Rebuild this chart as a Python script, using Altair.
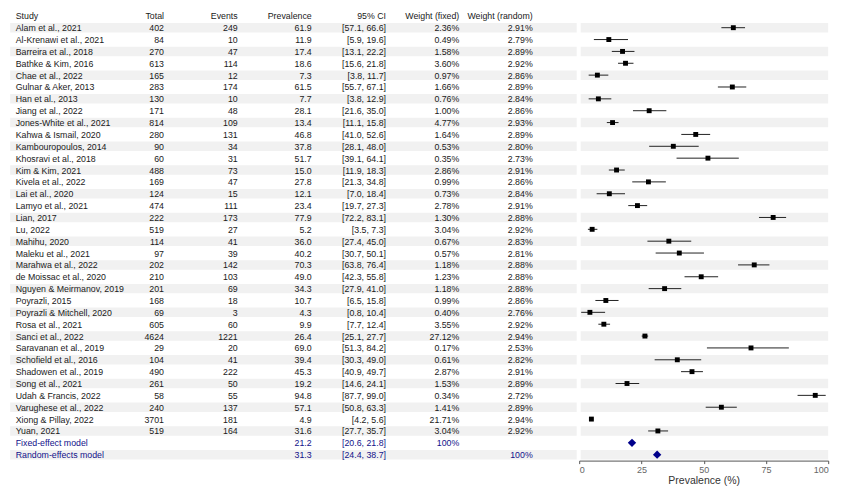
import altair as alt
import pandas as pd

studies = ["Alam et al., 2021", "Al-Krenawi et al., 2021", "Barreira et al., 2018", "Bathke & Kim, 2016",
           "Chae et al., 2022", "Gulnar & Aker, 2013", "Han et al., 2013", "Jiang et al., 2022",
           "Jones-White et al., 2021", "Kahwa & Ismail, 2020", "Kambouropoulos, 2014", "Khosravi et al., 2018",
           "Kim & Kim, 2021", "Kivela et al., 2022", "Lai et al., 2020", "Lamyo et al., 2021", "Lian, 2017",
           "Lu, 2022", "Mahihu, 2020", "Maleku et al., 2021", "Marahwa et al., 2022", "de Moissac et al., 2020",
           "Nguyen & Meirmanov, 2019", "Poyrazli, 2015", "Poyrazli & Mitchell, 2020", "Rosa et al., 2021",
           "Sanci et al., 2022", "Saravanan et al., 2019", "Schofield et al., 2016", "Shadowen et al., 2019",
           "Song et al., 2021", "Udah & Francis, 2022", "Varughese et al., 2022", "Xiong & Pillay, 2022",
           "Yuan, 2021"]
totals = [402, 84, 270, 613, 165, 283, 130, 171, 814, 280, 90, 60, 488, 169, 124, 474, 222, 519, 114, 97,
          202, 210, 201, 168, 69, 605, 4624, 29, 104, 490, 261, 58, 240, 3701, 519]
events = [249, 10, 47, 114, 12, 174, 10, 48, 109, 131, 34, 31, 73, 47, 15, 111, 173, 27, 41, 39,
          142, 103, 69, 18, 3, 60, 1221, 20, 41, 222, 50, 55, 137, 181, 164]
prevalence = [61.9, 11.9, 17.4, 18.6, 7.3, 61.5, 7.7, 28.1, 13.4, 46.8, 37.8, 51.7, 15.0, 27.8, 12.1, 23.4,
              77.9, 5.2, 36.0, 40.2, 70.3, 49.0, 34.3, 10.7, 4.3, 9.9, 26.4, 69.0, 39.4, 45.3, 19.2, 94.8,
              57.1, 4.9, 31.6]
ci_low = [57.1, 5.9, 13.1, 15.6, 3.8, 55.7, 3.8, 21.6, 11.1, 41.0, 28.1, 39.1, 11.9, 21.3, 7.0, 19.7,
          72.2, 3.5, 27.4, 30.7, 63.8, 42.3, 27.9, 6.5, 0.8, 7.7, 25.1, 51.3, 30.3, 40.9, 14.6, 87.7,
          50.8, 4.2, 27.7]
ci_high = [66.6, 19.6, 22.2, 21.8, 11.7, 67.1, 12.9, 35.0, 15.8, 52.6, 48.0, 64.1, 18.3, 34.8, 18.4, 27.3,
           83.1, 7.3, 45.0, 50.1, 76.4, 55.8, 41.0, 15.8, 10.4, 12.4, 27.7, 84.2, 49.0, 49.7, 24.1, 99.0,
           63.3, 5.6, 35.7]
w_fixed = [2.36, 0.49, 1.58, 3.60, 0.97, 1.66, 0.76, 1.00, 4.77, 1.64, 0.53, 0.35, 2.86, 0.99, 0.73, 2.78,
           1.30, 3.04, 0.67, 0.57, 1.18, 1.23, 1.18, 0.99, 0.40, 3.55, 27.12, 0.17, 0.61, 2.87, 1.53, 0.34,
           1.41, 21.71, 3.04]
w_random = [2.91, 2.79, 2.89, 2.92, 2.86, 2.89, 2.84, 2.86, 2.93, 2.89, 2.80, 2.73, 2.91, 2.86, 2.84, 2.91,
            2.88, 2.92, 2.83, 2.81, 2.88, 2.88, 2.88, 2.86, 2.76, 2.92, 2.94, 2.53, 2.82, 2.91, 2.89, 2.72,
            2.89, 2.94, 2.92]

models = ["Fixed-effect model", "Random-effects model"]
model_est = [21.2, 31.3]
model_low = [20.6, 24.4]
model_high = [21.8, 38.7]
model_wf = ["100%", ""]
model_wr = ["", "100%"]

headers = ["Study", "Total", "Events", "Prevalence", "95% CI", "Weight (fixed)", "Weight (random)"]

TEXT = "#1a1a1a"
NAVY = "#12128a"
FONT = "Liberation Sans"
FS = 8.8

rows = []
for i, s in enumerate(studies):
    rows.append(dict(row=i, study=s, total=str(totals[i]), events=str(events[i]),
                     prev=f"{prevalence[i]:.1f}", ci=f"[{ci_low[i]:.1f}, {ci_high[i]:.1f}]",
                     wf=f"{w_fixed[i]:.2f}%", wr=f"{w_random[i]:.2f}%",
                     est=prevalence[i], lo=ci_low[i], hi=ci_high[i], col=TEXT))
n = len(studies)
for j, m in enumerate(models):
    rows.append(dict(row=n + j, study=m, total="", events="", prev=f"{model_est[j]:.1f}",
                     ci=f"[{model_low[j]:.1f}, {model_high[j]:.1f}]", wf=model_wf[j], wr=model_wr[j],
                     est=model_est[j], lo=model_low[j], hi=model_high[j], col=NAVY))
rows.append(dict(row=-1, study=headers[0], total=headers[1], events=headers[2], prev=headers[3],
                 ci=headers[4], wf=headers[5], wr=headers[6], est=None, lo=None, hi=None, col=TEXT))
df = pd.DataFrame(rows)
df_st = df[df.row < n].copy()
df_md = df[df.row >= n].copy()
stripes = pd.DataFrame({"y0": [r - 0.4 for r in range(0, n + 2, 2)],
                        "y1": [r + 0.4 for r in range(0, n + 2, 2)]})

W, H = 249, 450.7
ysc = alt.Scale(domain=[-1.5, n + 1.5], reverse=True, nice=False, zero=False)
xsc = alt.Scale(domain=[0, 100], nice=False, zero=False)

base = alt.Chart(df)

stripe_tab = alt.Chart(stripes).mark_rect(color="#f1f1f1").encode(
    x=alt.value(-569), x2=alt.value(-2.5),
    y=alt.Y("y0:Q", scale=ysc, axis=None), y2="y1:Q")
stripe_plot = alt.Chart(stripes).mark_rect(color="#f1f1f1").encode(
    x=alt.value(1.5), x2=alt.value(W),
    y=alt.Y("y0:Q", scale=ysc, axis=None), y2="y1:Q")

ci = alt.Chart(df_st).mark_rule(color="#222222", strokeWidth=1).encode(
    x=alt.X("lo:Q", scale=xsc,
            axis=alt.Axis(values=[0, 25, 50, 75, 100], title="Prevalence (%)", grid=False,
                          tickSize=3, labelFontSize=9, labelColor="#666666", titleFontSize=10.5,
                          titleFontWeight="normal", titleColor="#333333", domainColor="#555555",
                          tickColor="#555555", labelFont=FONT, titleFont=FONT, titlePadding=1,
                          labelPadding=2)),
    x2="hi:Q",
    y=alt.Y("row:Q", scale=ysc,
            axis=alt.Axis(values=list(range(-1, n + 2)), labels=False, title=None, grid=False,
                          tickSize=3, domainColor="#555555", tickColor="#777777")))

squares = alt.Chart(df_st).mark_point(shape="square", filled=True, size=24, color="#000000",
                                      opacity=1).encode(
    x=alt.X("est:Q", scale=xsc), y=alt.Y("row:Q", scale=ysc))

diamonds = alt.Chart(df_md).mark_point(shape="diamond", filled=True, size=70, color="#00008b",
                                       opacity=1).encode(
    x=alt.X("est:Q", scale=xsc), y=alt.Y("row:Q", scale=ysc))

cols = [("study", -563.5, "left"), ("total", -415.2, "right"), ("events", -341.5, "right"),
        ("prev", -267.5, "right"), ("ci", -193.2, "right"), ("wf", -119.9, "right"),
        ("wr", -46.5, "right")]
texts = []
for field, xpos, al in cols:
    texts.append(base.mark_text(align=al, baseline="middle", font=FONT, fontSize=FS, dy=0.5).encode(
        x=alt.value(xpos), y=alt.Y("row:Q", scale=ysc),
        text=alt.Text(f"{field}:N"), color=alt.Color("col:N", scale=None)))

chart = alt.layer(stripe_tab, stripe_plot, ci, squares, diamonds, *texts).properties(
    width=W, height=H,
    autosize=alt.AutoSizeParams(type="none"),
    padding={"left": 579.2, "top": 9.9, "right": 23.6, "bottom": 35.4},
    background="white",
).configure_view(stroke=None)

chart.save("out.html", embed_options={"renderer": "svg", "actions": False})
